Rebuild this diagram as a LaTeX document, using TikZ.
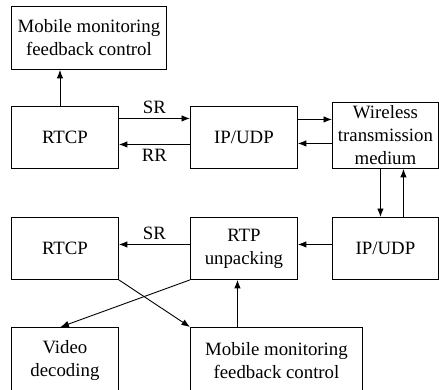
\documentclass[tikz,border=0pt]{standalone}
\usepackage{fontspec}
\setmainfont{Liberation Serif}
\usepackage{tikz}
\usetikzlibrary{positioning, arrows.meta}

\begin{document}
\begin{tikzpicture}[
    x=1pt, y=-1pt,
    font=\fontsize{18.8}{23}\selectfont,
    box/.style={draw, line width=0.9pt, anchor=north west, align=center, inner sep=0pt,
      minimum width=107pt, minimum height=62pt},
    every edge/.style={draw, line width=0.9pt, -{Latex[length=8.5pt, width=6.5pt]}},
]
  \useasboundingbox (0,0) rectangle (439,389);

  \node[box, minimum width=155pt, minimum height=63pt] (mfc1) at (11,6) {Mobile monitoring\\feedback control};
  \node[box] (rtcp1) at (11,106) {RTCP};
  \node[box] (ip1) at (190,106) {IP/UDP};
  \node[box, minimum width=106pt, minimum height=66pt] (wtm) at (332,102) {Wireless\\transmission\\medium};
  \node[box, minimum width=106pt] (ip2) at (332,217) {IP/UDP};
  \node[box] (rtp) at (190,217) {RTP\\unpacking};
  \node[box] (rtcp2) at (11,217) {RTCP};
  \node[box, minimum height=66pt] (vd) at (11,327) {Video\\decoding};
  \node[box, minimum width=172pt, minimum height=66pt] (mfc2) at (190,327) {Mobile monitoring\\feedback control};

  \path ([xshift=-5pt]rtcp1.north) edge ([xshift=-5pt]rtcp1.north |- mfc1.south);
  \path ([yshift=19pt]rtcp1.east) edge node[above=1pt] {SR} ([yshift=19pt]rtcp1.east -| ip1.west);
  \path ([yshift=-7pt]ip1.west) edge node[below=1pt] {RR} ([yshift=-7pt]ip1.west -| rtcp1.east);
  \path ([yshift=18pt]ip1.east) edge ([yshift=18pt]ip1.east -| wtm.west);
  \path ([yshift=-6pt]wtm.west |- ip1.east) edge ([yshift=-6pt]ip1.east);
  \path ([xshift=-5pt]wtm.south) edge ([xshift=-5pt]wtm.south |- ip2.north);
  \path ([xshift=18pt]ip2.north) edge ([xshift=18pt]ip2.north |- wtm.south);
  \path ([yshift=4pt]ip2.west) edge ([yshift=4pt]ip2.west -| rtp.east);
  \path ([yshift=4pt]rtp.west) edge node[above=1pt] {SR} ([yshift=4pt]rtp.west -| rtcp2.east);
  \path (rtp.south west) edge ([xshift=-4.5pt]vd.north);
  \path (rtcp2.south east) edge (mfc2.north west);
  \path ([xshift=-39pt]mfc2.north) edge ([xshift=-39pt]mfc2.north |- rtp.south);
\end{tikzpicture}
\end{document}
